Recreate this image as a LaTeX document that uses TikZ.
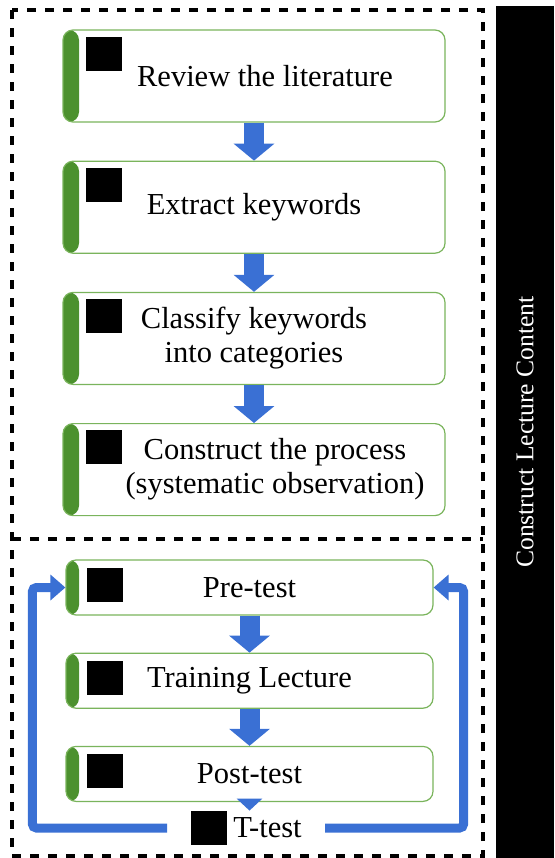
\documentclass[tikz,border=0pt]{standalone}
\usepackage{fontspec}
\setmainfont{Liberation Serif}
\usetikzlibrary{arrows.meta,positioning}

\definecolor{barGreen}{RGB}{76,145,46}
\definecolor{edgeGreen}{RGB}{122,180,92}
\definecolor{flowBlue}{RGB}{58,112,212}

\begin{document}
\begin{tikzpicture}[
  font=\fontsize{15.25}{17}\selectfont,
  node distance=19pt,
  stepbox/.style={draw=edgeGreen, line width=0.6pt, rounded corners=5pt, fill=white, align=center,
    inner sep=0pt, minimum width=191pt, minimum height=46pt,
    path picture={\fill[barGreen] (path picture bounding box.north west) rectangle ([xshift=#1]path picture bounding box.south west);}},
  stepbox/.default=8pt,
  testbox/.style={stepbox=6.5pt, minimum width=183.5pt, minimum height=27.5pt},
  marker/.style={fill=black, inner sep=0pt, minimum width=18pt, minimum height=17pt},
  frame/.style={line width=1.7pt, dash pattern=on 4.5pt off 4.5pt},
  sidebar/.style={fill=black, text=white, inner sep=0pt, minimum width=426pt, minimum height=29pt,
    font=\fontsize{12.8}{14}\selectfont},
  flow/.style={draw=flowBlue, line width=10pt, -{Triangle[length=8.5pt, width=20pt]}},
  feedback/.style={draw=flowBlue, line width=4.5pt, rounded corners=2pt, -{Triangle[length=7.5pt, width=12.5pt]}},
  tip/.style={draw=flowBlue, line width=4.5pt, -{Triangle[length=6pt, width=12.5pt]}}
]
\useasboundingbox (0,0) rectangle (277pt,-429pt);

% dashed frames
\draw[frame] (6pt,-5pt) rectangle (241.5pt,-428pt);
\draw[frame] (6pt,-269.5pt) -- (241.5pt,-269.5pt);

% side label
\node[sidebar, rotate=90] (side) at (262.5pt,-216pt) {Construct Lecture Content};

% content steps
\node[stepbox] (review) at (127pt,-38pt) {\hspace*{11pt}Review the literature};
\node[stepbox, below=of review] (extract) {Extract keywords};
\node[stepbox, below=of extract] (classify) {Classify keywords\\into categories};
\node[stepbox, below=of classify] (construct) {\hspace*{21pt}Construct the process\\\hspace*{21pt}(systematic observation)};

% lecture steps
\node[testbox] (pretest) at (124.75pt,-293.75pt) {Pre-test};
\node[testbox, below=18.5pt of pretest] (training) {Training Lecture};
\node[testbox, below=18.5pt of training] (posttest) {Post-test};
\node[inner sep=0pt] (ttest) at (133.75pt,-414pt) {T-test};

% black markers
\node[marker, anchor=north west] (review-sq) at ([shift={(11.5pt,-3.5pt)}]review.north west) {};
\node[marker, anchor=north west] (extract-sq) at ([shift={(11.5pt,-3.5pt)}]extract.north west) {};
\node[marker, anchor=north west] (classify-sq) at ([shift={(11.5pt,-3.5pt)}]classify.north west) {};
\node[marker, anchor=north west] (construct-sq) at ([shift={(11.5pt,-3.5pt)}]construct.north west) {};
\node[marker, anchor=north west] (pretest-sq) at ([shift={(10.5pt,-4pt)}]pretest.north west) {};
\node[marker, anchor=north west] (training-sq) at ([shift={(10.5pt,-4pt)}]training.north west) {};
\node[marker, anchor=north west] (posttest-sq) at ([shift={(10.5pt,-4pt)}]posttest.north west) {};
\node[marker, left=3pt of ttest] (ttest-sq) {};

\draw[flow] (review) -- (extract);
\draw[flow] (extract) -- (classify);
\draw[flow] (classify) -- (construct);
\draw[flow] (pretest) -- (training);
\draw[flow] (training) -- (posttest);
\draw[tip] (posttest.south) -- (posttest.south |- ttest-sq.north);
\draw[feedback, shorten <=11.5pt] (ttest-sq.west) -| ([xshift=-16.5pt]pretest.west) -- (pretest.west);
\draw[feedback, shorten <=11.5pt] (ttest.east) -| ([xshift=15pt]pretest.east) -- (pretest.east);
\end{tikzpicture}
\end{document}
